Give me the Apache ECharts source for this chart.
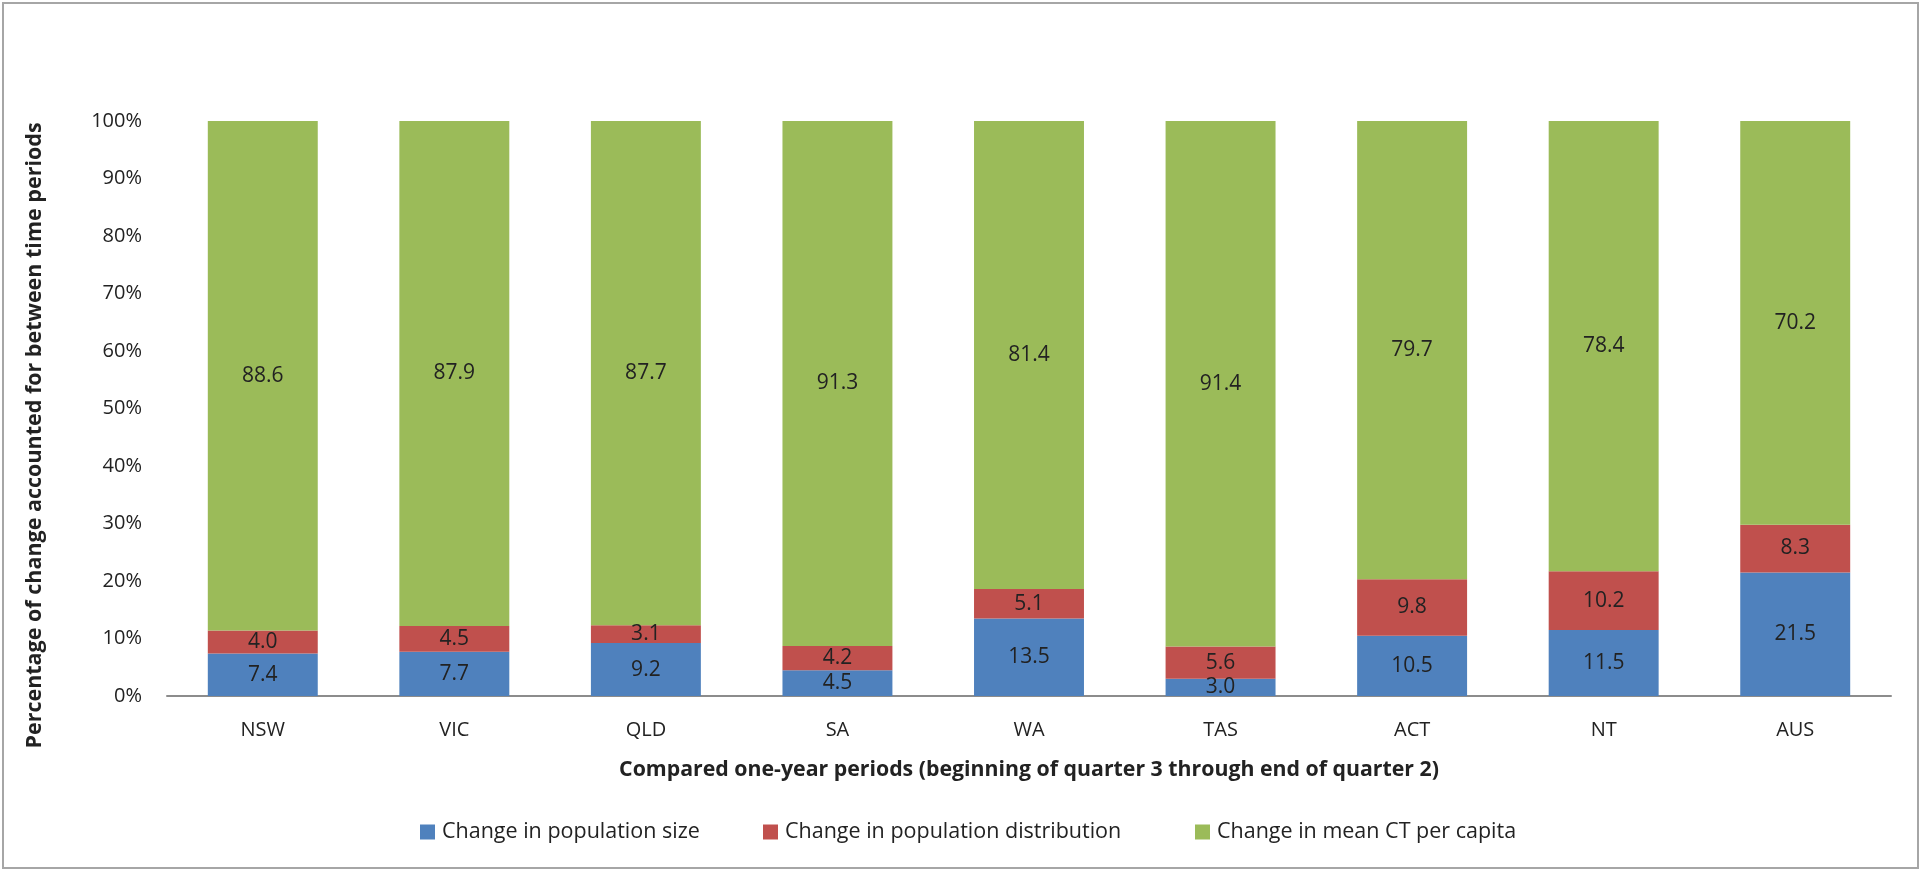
<!DOCTYPE html>
<html>
<head>
<meta charset="utf-8">
<title>Change accounted for between time periods</title>
<script src="https://cdn.jsdelivr.net/npm/echarts@6/dist/echarts.min.js"></script>
<style>
  html, body { margin: 0; padding: 0; background: #ffffff; }
  #chart { width: 1921px; height: 871px; }
</style>
</head>
<body>
<div id="chart"></div>
<script>
// States and territories compared
const categories = ['NSW', 'VIC', 'QLD', 'SA', 'WA', 'TAS', 'ACT', 'NT', 'AUS'];

// Share of change attributed to each component (per cent)
const popSize = [7.4, 7.7, 9.2, 4.5, 13.5, 3.0, 10.5, 11.5, 21.5];
const popDistribution = [4.0, 4.5, 3.1, 4.2, 5.1, 5.6, 9.8, 10.2, 8.3];
const meanCtPerCapita = [88.6, 87.9, 87.7, 91.3, 81.4, 91.4, 79.7, 78.4, 70.2];

const seriesNames = [
  'Change in population size',
  'Change in population distribution',
  'Change in mean CT per capita'
];
const seriesColors = ['#4F81BD', '#C0504D', '#9BBB59'];

const FONT = '"Open Sans", "DejaVu Sans", sans-serif';
const TEXT = '#222222';

// 100% stacked: each column is scaled so its parts sum to 100
const totals = categories.map((_, i) => popSize[i] + popDistribution[i] + meanCtPerCapita[i]);
const asShare = arr => arr.map((v, i) => ({ value: v / totals[i] * 100, raw: v }));

const makeSeries = (name, arr, color) => ({
  name: name,
  type: 'bar',
  stack: 'total',
  barWidth: '57.4%',
  data: asShare(arr),
  itemStyle: { color: color },
  label: {
    show: true,
    position: 'inside',
    color: TEXT,
    fontFamily: FONT,
    fontSize: 21,
    formatter: p => p.data.raw.toFixed(1)
  },
  emphasis: { disabled: true }
});

const legendAt = (left, name) => ({
  left: left,
  top: 816,
  icon: 'rect',
  itemWidth: 15,
  itemHeight: 15,
  itemGap: 0,
  selectedMode: false,
  data: [name],
  textStyle: { color: TEXT, fontFamily: FONT, fontSize: 21.5, padding: [0, 0, 0, 2] }
});

const chart = echarts.init(document.getElementById('chart'), null, { renderer: 'canvas' });
chart.setOption({
  animation: false,
  backgroundColor: '#ffffff',
  textStyle: { fontFamily: FONT },
  graphic: [{
    type: 'rect',
    shape: { x: 3, y: 3, width: 1915, height: 865 },
    style: { fill: 'none', stroke: '#a6a6a6', lineWidth: 2 },
    silent: true
  }],
  grid: { left: 167, right: 30, top: 121, bottom: 175 },
  legend: [
    legendAt(415, seriesNames[0]),
    legendAt(758, seriesNames[1]),
    legendAt(1190, seriesNames[2])
  ],
  xAxis: {
    type: 'category',
    data: categories,
    name: 'Compared one-year periods (beginning of quarter 3 through end of quarter 2)',
    nameLocation: 'middle',
    nameGap: 63,
    nameTextStyle: { color: TEXT, fontFamily: FONT, fontSize: 21.3, fontWeight: 'bold' },
    axisLine: { show: true, lineStyle: { color: '#8c8c8c', width: 2 } },
    axisTick: { show: false },
    axisLabel: { color: TEXT, fontFamily: FONT, fontSize: 20, margin: 24 }
  },
  yAxis: {
    type: 'value',
    min: 0,
    max: 100,
    interval: 10,
    name: 'Percentage of change accounted for between time periods',
    nameLocation: 'middle',
    nameGap: 121,
    nameRotate: 90,
    nameTextStyle: {
      color: TEXT, fontFamily: FONT, fontSize: 21.5, fontWeight: 'bold',
      padding: [0, 54, 0, 0]
    },
    axisLine: { show: false },
    axisTick: { show: false },
    splitLine: { show: false },
    axisLabel: {
      color: TEXT, fontFamily: FONT, fontSize: 20, margin: 25,
      formatter: v => v + '%'
    }
  },
  series: [
    makeSeries(seriesNames[0], popSize, seriesColors[0]),
    makeSeries(seriesNames[1], popDistribution, seriesColors[1]),
    makeSeries(seriesNames[2], meanCtPerCapita, seriesColors[2])
  ]
});
</script>
</body>
</html>
